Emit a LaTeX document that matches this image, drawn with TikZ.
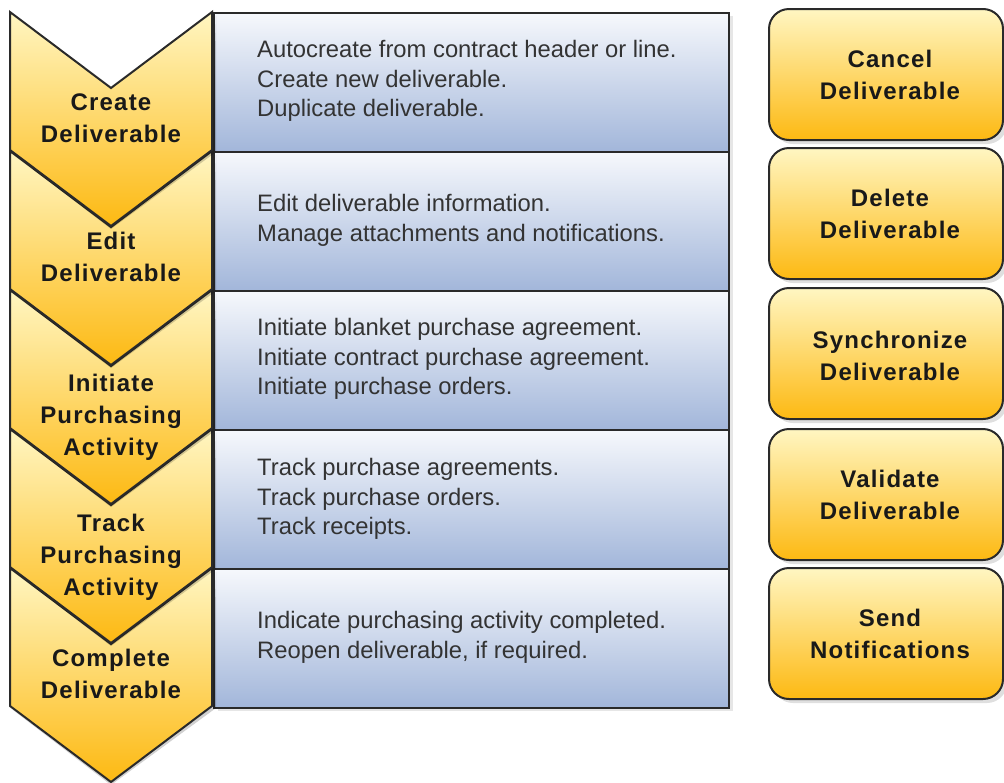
\documentclass[tikz,border=0pt]{standalone}
\usepackage{fontspec}
\setmainfont{Liberation Sans}
\usetikzlibrary{shadows}
\definecolor{orTop}{HTML}{FFF6C2}
\definecolor{orBot}{HTML}{FDB912}
\definecolor{blTop}{HTML}{F6F8FC}
\definecolor{blBot}{HTML}{A2B6DA}
\definecolor{edgec}{HTML}{2A2A2A}
\definecolor{txtc}{HTML}{333333}
\tikzset{
  chev/.style={draw=edgec, line width=2pt, top color=orTop, bottom color=orBot, line join=miter},
  chevshadow/.style={fill=black, opacity=0.18},
  bluebox/.style={draw=edgec, line width=2pt, top color=blTop, bottom color=blBot,
    minimum width=515pt, minimum height=139pt, anchor=north west, inner sep=0pt,
    drop shadow={shadow xshift=4pt, shadow yshift=-3pt, opacity=0.2}},
  sidebox/.style={draw=edgec, line width=2pt, rounded corners=20pt, top color=orTop, bottom color=orBot,
    minimum width=234pt, minimum height=131pt, anchor=north west, inner sep=0pt,
    drop shadow={shadow xshift=4pt, shadow yshift=-4pt, opacity=0.25}},
  ctext/.style={font=\fontsize{24}{32}\selectfont\bfseries\addfontfeatures{LetterSpace=5},
    align=center, text=black!90, inner sep=0pt},
  btext/.style={font=\fontsize{23.8}{29.5}\selectfont, align=left, text=txtc, anchor=west, inner sep=0pt},
}
\begin{document}
\begin{tikzpicture}[x=1pt,y=-1pt]
\useasboundingbox (0,0) rectangle (1004,782);
% blue description boxes
\node[bluebox] (b1) at (213,12) {};
\node[bluebox] (b2) at (213,151) {};
\node[bluebox] (b3) at (213,290) {};
\node[bluebox] (b4) at (213,429) {};
\node[bluebox] (b5) at (213,568) {};
% chevrons, lower ones first
\foreach \t in {568,429,290,151,12}{
  \fill[chevshadow] (13,\t+142) -- (111,\t+217) -- (216,\t+140) -- (216,\t+4) -- (212,\t+138) -- (111,\t+214) -- cycle;
  \path[chev] (10,\t) -- (111,\t+76) -- (212,\t) -- (212,\t+138) -- (111,\t+214) -- (10,\t+138) -- cycle;
}
% chevron labels
\node[ctext] (c1) at (111,118) {Create\\Deliverable};
\node[ctext] (c2) at (111,256.5) {Edit\\Deliverable};
\node[ctext] (c3) at (111,417) {Initiate\\Purchasing\\Activity};
\node[ctext] (c4) at (111,557) {Track\\Purchasing\\Activity};
\node[ctext] (c5) at (111,674) {Complete\\Deliverable};
% descriptions
\node[btext] (d1) at (257,81) {Autocreate from contract header or line.\\Create new deliverable.\\Duplicate deliverable.};
\node[btext] (d2) at (257,220.5) {Edit deliverable information.\\Manage attachments and notifications.};
\node[btext] (d3) at (257,359) {Initiate blanket purchase agreement.\\Initiate contract purchase agreement.\\Initiate purchase orders.};
\node[btext] (d4) at (257,499) {Track purchase agreements.\\Track purchase orders.\\Track receipts.};
\node[btext] (d5) at (257,637.5) {Indicate purchasing activity completed.\\Reopen deliverable, if required.};
% side actions
\node[sidebox] (s1) at (768,8) {};
\node[sidebox] (s2) at (768,147) {};
\node[sidebox] (s3) at (768,287) {};
\node[sidebox] (s4) at (768,428) {};
\node[sidebox] (s5) at (768,567) {};
\node[ctext] (t1) at ([xshift=4pt]s1.center) {Cancel\\Deliverable};
\node[ctext] (t2) at ([xshift=4pt]s2.center) {Delete\\Deliverable};
\node[ctext] (t3) at ([xshift=4pt,yshift=-2pt]s3.center) {Synchronize\\Deliverable};
\node[ctext] (t4) at ([xshift=4pt]s4.center) {Validate\\Deliverable};
\node[ctext] (t5) at ([xshift=4pt]s5.center) {Send\\Notifications};
\end{tikzpicture}
\end{document}
